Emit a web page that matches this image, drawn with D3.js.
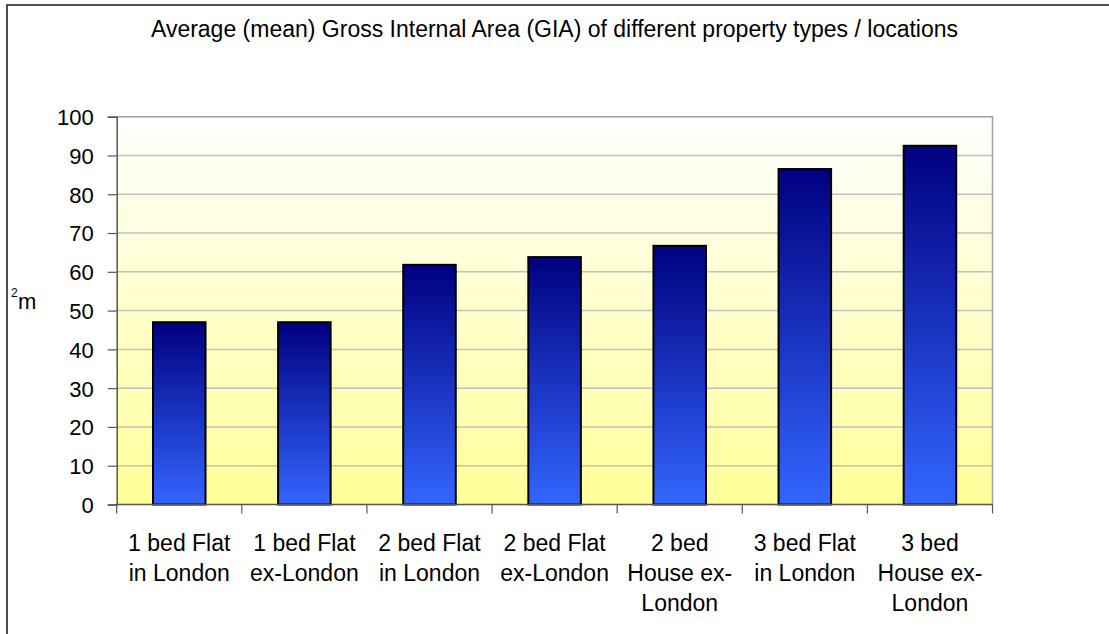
<!DOCTYPE html>
<html>
<head>
<meta charset="utf-8">
<script src="https://cdn.jsdelivr.net/npm/d3@7"></script>
<style>
  body { margin: 0; background: #fff; }
  text { font-family: "Liberation Sans", Arial, sans-serif; fill: #000; }
</style>
</head>
<body>
<div id="chart"></div>
<script>
// data
var categories = [
  ["1 bed Flat", "in London"],
  ["1 bed Flat", "ex-London"],
  ["2 bed Flat", "in London"],
  ["2 bed Flat", "ex-London"],
  ["2 bed", "House ex-", "London"],
  ["3 bed Flat", "in London"],
  ["3 bed", "House ex-", "London"]
]
var values = [47, 47, 61.8, 63.8, 66.7, 86.5, 92.5]
var yTicks = [0, 10, 20, 30, 40, 50, 60, 70, 80, 90, 100]
var title = "Average (mean) Gross Internal Area (GIA) of different property types / locations"

var W = 1109, H = 634
var margin = {top: 116.7, right: 116.5, bottom: 129.5, left: 116.7}
var width = W - margin.left - margin.right,
    height = H - margin.top - margin.bottom

var svg = d3.select("#chart").append("svg")
    .attr("width", W)
    .attr("height", H)

var defs = svg.append("defs")
var bg = defs.append("linearGradient").attr("id", "bgGrad")
    .attr("x1", 0).attr("y1", 0).attr("x2", 0).attr("y2", 1)
bg.append("stop").attr("offset", "0%").attr("stop-color", "#ffffff")
bg.append("stop").attr("offset", "100%").attr("stop-color", "#ffff99")

var bg2 = defs.append("linearGradient").attr("id", "barGrad")
    .attr("x1", 0).attr("y1", 0).attr("x2", 0).attr("y2", 1)
bg2.append("stop").attr("offset", "0%").attr("stop-color", "#000080")
bg2.append("stop").attr("offset", "100%").attr("stop-color", "#3366ff")

// outer chart border (runs off the right and bottom edge)
svg.append("rect")
    .attr("x", 7).attr("y", 5)
    .attr("width", W + 20).attr("height", H + 20)
    .attr("fill", "none")
    .attr("stroke", "#222")
    .attr("stroke-width", 1.6)

var g = svg.append("g")
    .attr("transform", "translate(" + margin.left + "," + margin.top + ")")

var idx = d3.range(categories.length)
var x = d3.scaleBand().domain(idx).range([0, width]).paddingInner(0.58).paddingOuter(0.29)
var xc = d3.scaleBand().domain(idx).range([0, width]).padding(0)
var y = d3.scaleLinear().domain([0, 100]).range([height, 0])

// plot area
g.append("rect")
    .attr("width", width).attr("height", height)
    .attr("fill", "url(#bgGrad)")

// gridlines
g.selectAll(".grid").data(yTicks.filter(function(d){ return d > 0 && d < 100 }))
  .enter().append("line")
    .attr("x1", 0).attr("x2", width)
    .attr("y1", function(d){ return y(d) }).attr("y2", function(d){ return y(d) })
    .attr("stroke", "#c0c0c0").attr("stroke-width", 1.5)

// plot frame top / right
g.append("path")
    .attr("d", "M0," + y(100) + "H" + width + "V" + y(0))
    .attr("fill", "none").attr("stroke", "#a0a0a0").attr("stroke-width", 1.5)

// bars
g.selectAll(".bar").data(values)
  .enter().append("rect")
    .attr("x", function(d, i){ return x(i) })
    .attr("y", function(d){ return y(d) })
    .attr("width", x.bandwidth())
    .attr("height", function(d){ return y(0) - y(d) })
    .attr("fill", "url(#barGrad)")
    .attr("stroke", "#000").attr("stroke-width", 2)

// y axis
var yAxis = g.append("g")
    .call(d3.axisLeft(y).tickValues(yTicks).tickSize(9).tickPadding(14).tickFormat(d3.format("d")))
yAxis.select(".domain").attr("stroke", "#555").attr("stroke-width", 1.5)
yAxis.selectAll(".tick line").attr("stroke", "#555").attr("stroke-width", 1.2)
yAxis.selectAll("text")
    .style("font-family", '"Liberation Sans", Arial, sans-serif')
    .style("font-size", "22px").attr("fill", "#000").attr("dy", "0.36em")

// x axis line + ticks at category boundaries
var xg = g.append("g").attr("transform", "translate(0," + height + ")")
xg.append("line").attr("x1", 0).attr("x2", width)
    .attr("stroke", "#555").attr("stroke-width", 1.5)
xg.selectAll(".xt").data(d3.range(categories.length + 1))
  .enter().append("line")
    .attr("x1", function(d){ return d * xc.step() }).attr("x2", function(d){ return d * xc.step() })
    .attr("y1", 0).attr("y2", 9)
    .attr("stroke", "#555").attr("stroke-width", 1.2)

// x labels
var lab = xg.selectAll(".xl").data(categories)
  .enter().append("text")
    .attr("text-anchor", "middle")
    .style("font-size", "23px")
    .attr("transform", function(d, i){ return "translate(" + (xc(i) + xc.bandwidth() / 2) + ",0)" })
lab.selectAll("tspan").data(function(d){ return d })
  .enter().append("tspan")
    .attr("x", 0)
    .attr("y", function(d, j){ return 46.5 + j * 30 })
    .text(function(d){ return d })

// title
svg.append("text")
    .attr("x", 554.5).attr("y", 37)
    .attr("text-anchor", "middle")
    .style("font-size", "23px")
    .text(title)

// y axis label (m with a small 2 tucked above its left side)
svg.append("text").attr("x", 18).attr("y", 309).style("font-size", "22px").text("m")
svg.append("text").attr("x", 11).attr("y", 297).style("font-size", "12px").text("2")
</script>
</body>
</html>
